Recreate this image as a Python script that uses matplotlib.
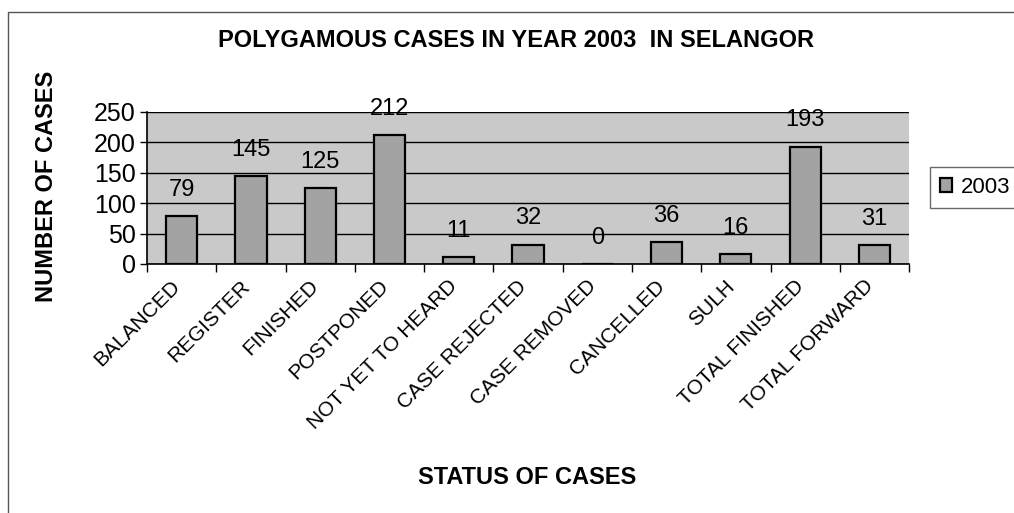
import numpy as np
import matplotlib
matplotlib.use("Agg")
import matplotlib.pyplot as plt
import matplotlib.transforms as mtransforms
from matplotlib.patches import Rectangle

plt.rcParams['font.family'] = ['Liberation Sans', 'DejaVu Sans']

# data
categories = ['BALANCED', 'REGISTER', 'FINISHED', 'POSTPONED', 'NOT YET TO HEARD',
              'CASE REJECTED', 'CASE REMOVED', 'CANCELLED', 'SULH',
              'TOTAL FINISHED', 'TOTAL FORWARD']
cases_2003 = [79, 145, 125, 212, 11, 32, 0, 36, 16, 193, 31]
y_ticks = [0, 50, 100, 150, 200, 250]
series_name = '2003'

fig = plt.figure(figsize=(10.14, 5.13), dpi=100)
ax = fig.add_axes([0.145, 0.4854, 0.7515, 0.2963])

# outer chart frame (runs off the right/bottom edge like the scan)
fig.patches.append(Rectangle((0.008, -0.05), 1.05, 0.977 + 0.05,
                             transform=fig.transFigure, fill=False,
                             edgecolor='#555555', linewidth=1.0))

x = np.arange(len(categories))
ax.set_facecolor('#c9c9c9')
bars = ax.bar(x, cases_2003, width=0.45, color='#a3a3a3', edgecolor='black',
              linewidth=1.6, label=series_name, zorder=3)

for xi, v in zip(x, cases_2003):
    ax.annotate(str(v), (xi, v), xytext=(0, 11), textcoords='offset points',
                ha='center', va='bottom', fontsize=17)

ax.set_xlim(-0.5, len(categories) - 0.5)
ax.set_ylim(0, 250)
ax.set_yticks(y_ticks)
ax.tick_params(axis='y', labelsize=18, length=5, width=1, pad=3)
ax.yaxis.grid(True, color='black', linewidth=1.0, zorder=0)
ax.set_axisbelow(True)

# category boundary ticks, labels centred under bars
ax.set_xticks(np.arange(-0.5, len(categories), 1.0))
ax.set_xticklabels([])
ax.set_xticks(x, minor=True)
ax.set_xticklabels(categories, minor=True, rotation=45, ha='right',
                   rotation_mode='anchor', fontsize=15)
ax.tick_params(axis='x', which='major', length=6, width=1)
ax.tick_params(axis='x', which='minor', length=0, pad=9)
shift = mtransforms.ScaledTranslation(-8 / 72, 0, fig.dpi_scale_trans)
for lbl in ax.get_xticklabels(minor=True):
    lbl.set_transform(lbl.get_transform() + shift)

for s in ['top', 'right']:
    ax.spines[s].set_visible(False)
for s in ['left', 'bottom']:
    ax.spines[s].set_linewidth(1.2)

fig.text(0.509, 0.922, 'POLYGAMOUS CASES IN YEAR 2003  IN SELANGOR',
         ha='center', va='center', fontsize=17, fontweight='bold')
fig.text(0.046, 0.637, 'NUMBER OF CASES', rotation=90, ha='center', va='center',
         fontsize=17, fontweight='bold')
fig.text(0.52, 0.07, 'STATUS OF CASES', ha='center', va='center',
         fontsize=17, fontweight='bold')

leg = fig.legend(handles=[bars], labels=[series_name], loc='center left',
                 bbox_to_anchor=(0.917, 0.635), fontsize=16, frameon=True,
                 fancybox=False, edgecolor='#444444', handlelength=0.55,
                 handleheight=0.55, handletextpad=0.4, borderpad=0.45,
                 borderaxespad=0.0)
leg.get_frame().set_linewidth(1.0)

fig.savefig('out.png', dpi=100)
